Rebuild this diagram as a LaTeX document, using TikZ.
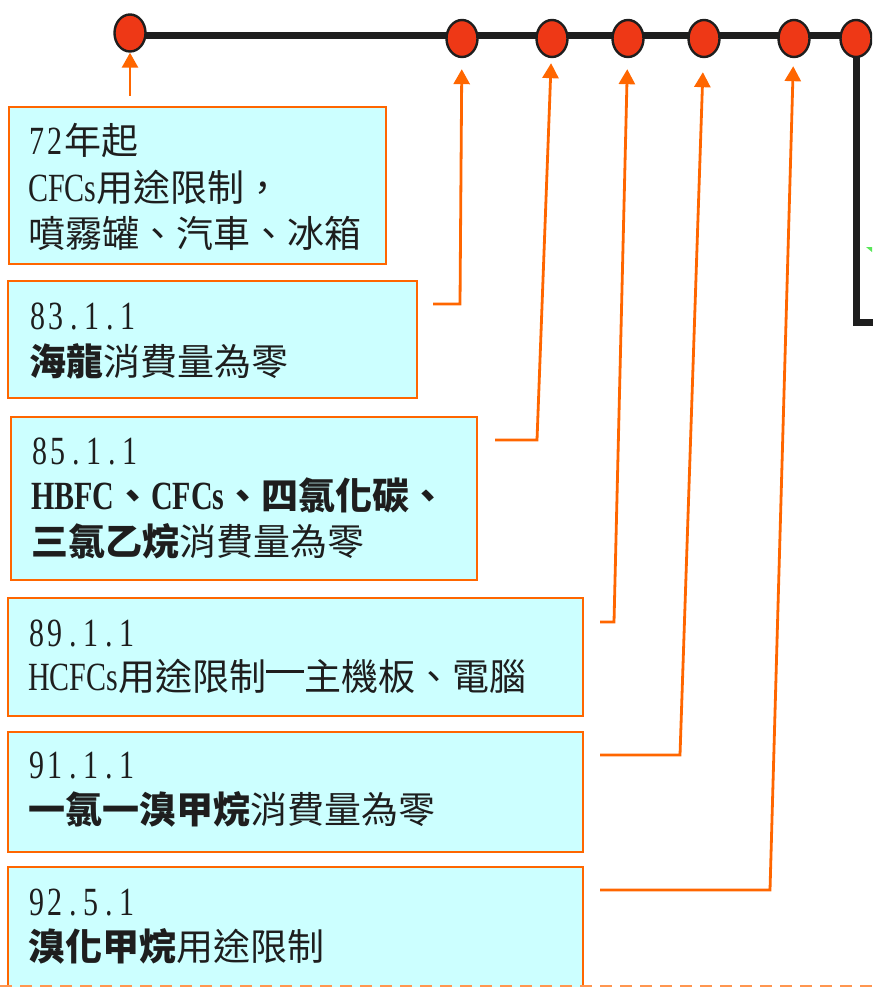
\documentclass[tikz,border=0pt]{standalone}
\usepackage{fontspec}
\setmainfont{Liberation Serif}
\newfontfamily\cjk{Noto Sans CJK TC}
\newfontfamily\lat[FakeStretch=0.75]{Liberation Serif}
\usetikzlibrary{arrows.meta,shapes.geometric,backgrounds}
\definecolor{orng}{RGB}{255,102,0}
\definecolor{cyanbox}{RGB}{204,255,255}
\definecolor{dotred}{RGB}{238,56,22}
\definecolor{ink}{RGB}{30,30,30}
\definecolor{dashor}{RGB}{255,150,80}
\definecolor{gmark}{RGB}{90,230,90}
\newcommand\zh[1]{{\cjk\fontsize{37}{46}\selectfont #1}}
\newcommand\en[1]{{\lat\fontsize{40}{46}\selectfont #1}}
\newcommand\dg[1]{\makebox[18pt]{#1}}
\newcommand\dateline[6]{\en{\dg{#1}\dg{#2}\dg{#3}\dg{#4}\dg{#5}\dg{#6}}}
\newcommand\bigdash{\rule[17pt]{38pt}{3pt}}
\tikzset{
  infobox/.style={draw=orng, fill=cyanbox, line width=2.6pt, rectangle, anchor=north west, inner sep=0pt, outer sep=0pt},
  txt/.style={anchor=base west, inner sep=0pt, outer sep=0pt, text=ink},
  dot/.style={ellipse, draw=ink, fill=dotred, line width=2.4pt, minimum width=31pt, minimum height=37pt, inner sep=0pt},
  tline/.style={draw=ink, line width=7pt},
  conn/.style={draw=orng, line width=2.8pt, -{Triangle[width=16pt,length=15pt]}},
  bottomdash/.style={draw=dashor, line width=1.8pt, dash pattern=on 12pt off 8pt}
}
\begin{document}
\begin{tikzpicture}[x=1pt,y=-1pt]
\useasboundingbox (0,0) rectangle (872,987);
\clip (0,0) rectangle (872,987);

% timeline nodes
\node[dot] (c1) at (130,33) {};
\node[dot] (c2) at (462,38.5) {};
\node[dot] (c3) at (552,38.5) {};
\node[dot] (c4) at (628,38.5) {};
\node[dot] (c5) at (704,38.5) {};
\node[dot] (c6) at (794,38.5) {};
\node[dot] (c7) at (856,38.5) {};
\coordinate (t0) at (130,36);
\coordinate (tend) at (890,322);
\begin{pgfonlayer}{background}
\draw[tline] (t0) -- (t0 -| c7) |- (tend);
\end{pgfonlayer}
\fill[gmark] (866,247) -- (872,247) -- (872,252) -- cycle;

% boxes
\node[infobox, minimum width=377pt, minimum height=157pt] (b1) at (9,107) {};
\node[infobox, minimum width=409pt, minimum height=117pt] (b2) at (8,281) {};
\node[infobox, minimum width=466pt, minimum height=163pt] (b3) at (11,417) {};
\node[infobox, minimum width=575pt, minimum height=118pt] (b4) at (8,598) {};
\node[infobox, minimum width=575pt, minimum height=120pt] (b5) at (8,732) {};
\node[infobox, minimum width=575pt, minimum height=160pt] (b6) at (8,867) {};

% texts
\node[txt] (t11) at (28,155) {\en{\dg{7}\dg{2}}\zh{年起}};
\node[txt] (t12) at (28,201) {\en{CFCs}\zh{用途限制，}};
\node[txt] (t13) at (28,247) {\zh{噴霧罐、汽車、冰箱}};

\node[txt] (t21) at (29,329) {\dateline{8}{3}{.}{1}{.}{1}};
\node[txt] (t22) at (29,375) {\zh{\bfseries 海龍}\zh{消費量為零}};

\node[txt] (t31) at (31,464) {\dateline{8}{5}{.}{1}{.}{1}};
\node[txt] (t32) at (31,509) {\en{\bfseries HBFC}\zh{\bfseries 、}\en{\bfseries CFCs}\zh{\bfseries 、四氯化碳、}};
\node[txt] (t33) at (31,555) {\zh{\bfseries 三氯乙烷}\zh{消費量為零}};

\node[txt] (t41) at (28,646) {\dateline{8}{9}{.}{1}{.}{1}};
\node[txt] (t42) at (28,690) {\en{HCFCs}\zh{用途限制}\bigdash\zh{主機板、電腦}};

\node[txt] (t51) at (28,778) {\dateline{9}{1}{.}{1}{.}{1}};
\node[txt] (t52) at (28,823) {\zh{\bfseries 一氯一溴甲烷}\zh{消費量為零}};

\node[txt] (t61) at (28,915) {\dateline{9}{2}{.}{5}{.}{1}};
\node[txt] (t62) at (28,960) {\zh{\bfseries 溴化甲烷}\zh{用途限制}};

% connectors
\coordinate (s1) at (130,96);
\coordinate (s2) at (433,304);  \coordinate (k2) at (460,304);
\coordinate (s3) at (495,440);  \coordinate (k3) at (537,440);
\coordinate (s4) at (600,622);  \coordinate (k4) at (614,622);
\coordinate (s5) at (600,755);  \coordinate (k5) at (680,755);
\coordinate (s6) at (600,890);  \coordinate (k6) at (770,890);
\draw[conn] (s1) -- (c1);
\draw[conn, shorten >=11pt] (s2) -- (k2) -- (c2);
\draw[conn, shorten >=5pt] (s3) -- (k3) -- (c3);
\draw[conn, shorten >=11pt] (s4) -- (k4) -- (c4);
\draw[conn, shorten >=14pt] (s5) -- (k5) -- (c5);
\draw[conn, shorten >=8pt] (s6) -- (k6) -- (c6);

% bottom dashed line
\coordinate (d0) at (0,986);
\coordinate (d1) at (872,986);
\draw[bottomdash] (d0) -- (d1);
\end{tikzpicture}
\end{document}
